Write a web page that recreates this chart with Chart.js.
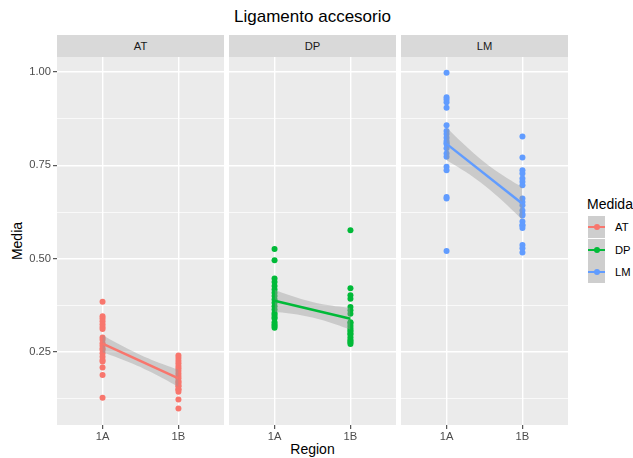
<!DOCTYPE html>
<html>
<head>
<meta charset="utf-8">
<script src="https://cdn.jsdelivr.net/npm/chart.js@4"></script>
<style>
body { margin: 0; background: #fff; }
#wrap { position: relative; width: 633px; height: 458px; font-family: 'Liberation Sans', Arial, sans-serif; overflow: hidden; }
.abs { position: absolute; }
canvas { position: absolute; }
.strip { position: absolute; top: 35px; height: 22px; width: 167px; line-height: 22px; background: #D9D9D9; color: #1A1A1A; font-size: 11.2px; text-align: center; }
.key { position: absolute; left: 588px; width: 17px; height: 22px; background: #CECECE; }
.key .ln { position: absolute; left: 0; top: 10px; width: 17px; height: 2px; }
.key .dt { position: absolute; left: 6px; top: 8px; width: 6px; height: 6px; border-radius: 3px; }
.lab { position: absolute; left: 615px; font-size: 11.2px; color: #000; line-height: 22px; }
</style>
</head>
<body>
<div id="wrap">
  <div class="abs" style="left:57px;width:511px;top:7px;text-align:center;font-size:17px;color:#000">Ligamento accesorio</div>
  <div class="abs" style="left:-13px;top:233px;width:60px;text-align:center;font-size:14px;transform:rotate(-90deg)">Media</div>
  <div class="abs" style="left:57px;width:511px;top:441px;text-align:center;font-size:14px">Region</div>
  <div id="strips"></div>
  <canvas id="p0" width="224" height="401" style="left:0px;top:57px"></canvas>
  <canvas id="p1" width="167" height="401" style="left:229px;top:57px"></canvas>
  <canvas id="p2" width="167" height="401" style="left:401px;top:57px"></canvas>
  <div class="abs" style="left:587px;top:196px;font-size:14px">Medida</div>
  <div id="legend"></div>
</div>
<script>
// data
var regions = ['1A', '1B']
var medidas = ['AT', 'DP', 'LM']
var colores = ['#F8766D', '#00BA38', '#619CFF']
var yTicks = [0.25, 0.5, 0.75, 1.0]

var AT_1A = [0.385, 0.346, 0.340, 0.333, 0.325, 0.317, 0.312, 0.289, 0.283, 0.274, 0.267, 0.260, 0.256, 0.247, 0.238, 0.229, 0.225, 0.209, 0.189, 0.128]
var AT_1B = [0.241, 0.234, 0.227, 0.220, 0.213, 0.207, 0.200, 0.193, 0.186, 0.180, 0.173, 0.170, 0.166, 0.160, 0.159, 0.151, 0.150, 0.144, 0.123, 0.099]
var DP_1A = [0.526, 0.496, 0.447, 0.438, 0.427, 0.418, 0.409, 0.400, 0.391, 0.382, 0.373, 0.364, 0.355, 0.350, 0.344, 0.340, 0.330, 0.324, 0.320, 0.315]
var DP_1B = [0.576, 0.421, 0.402, 0.393, 0.371, 0.362, 0.353, 0.330, 0.328, 0.321, 0.315, 0.310, 0.306, 0.300, 0.297, 0.290, 0.283, 0.280, 0.276, 0.272]
var LM_1A = [0.998, 0.932, 0.926, 0.919, 0.904, 0.857, 0.842, 0.834, 0.824, 0.815, 0.810, 0.807, 0.796, 0.782, 0.773, 0.746, 0.737, 0.665, 0.661, 0.521]
var LM_1B = [0.827, 0.771, 0.737, 0.728, 0.715, 0.706, 0.697, 0.600, 0.590, 0.661, 0.652, 0.643, 0.629, 0.620, 0.616, 0.589, 0.582, 0.537, 0.528, 0.517]

var panelData = [[AT_1A, AT_1B], [DP_1A, DP_1B], [LM_1A, LM_1B]]

// strips + legend
var strips = document.getElementById('strips')
var lefts = [57, 229, 401]
for (let i = 0; i < medidas.length; i++) {
    strips.innerHTML += '<div class="strip" style="left:' + lefts[i] + 'px">' + medidas[i] + '</div>'
}
var legend = document.getElementById('legend')
for (let i = 0; i < medidas.length; i++) {
    let top = 216 + i * 22.5
    legend.innerHTML += '<div class="key" style="top:' + top + 'px"><div class="ln" style="background:' + colores[i] + '"></div><div class="dt" style="background:' + colores[i] + '"></div></div>'
        + '<div class="lab" style="top:' + top + 'px">' + medidas[i] + '</div>'
}

function mean(arr) {
    let s = 0
    arr.forEach(v => s += v)
    return s / arr.length
}

// lm fit y ~ x with 95% band, like geom_smooth(method = 'lm')
function lmBand(a, b) {
    let n1 = a.length, n2 = b.length, n = n1 + n2
    let m1 = mean(a), m2 = mean(b)
    let ss = 0
    a.forEach(v => ss += (v - m1) ** 2)
    b.forEach(v => ss += (v - m2) ** 2)
    let sigma = Math.sqrt(ss / (n - 2))
    let xbar = (n1 * 1 + n2 * 2) / n
    let sxx = n1 * (1 - xbar) ** 2 + n2 * (2 - xbar) ** 2
    let df = n - 2, z = 1.959964
    let t = z + (z ** 3 + z) / (4 * df) + (5 * z ** 5 + 16 * z ** 3 + 3 * z) / (96 * df * df)
    let up = [], lo = []
    for (let k = 0; k <= 20; k++) {
        let x = 1 + k / 20
        let fit = m1 + (m2 - m1) * (x - 1)
        let se = sigma * Math.sqrt(1 / n + (x - xbar) ** 2 / sxx)
        up.push({x: x, y: fit + t * se})
        lo.push({x: x, y: fit - t * se})
    }
    return {line: [{x: 1, y: m1}, {x: 2, y: m2}], up: up, lo: lo}
}

var allTicks = []
yTicks.forEach(v => { allTicks.push(v - 0.125); allTicks.push(v) })
function isMajor(v) { return yTicks.some(t => Math.abs(t - v) < 1e-6) }

var panelBg = {
    id: 'panelBg',
    beforeDraw(chart) {
        let a = chart.chartArea, c = chart.ctx
        c.save()
        c.fillStyle = '#EBEBEB'
        c.fillRect(a.left, a.top, a.right - a.left, a.bottom - a.top)
        c.restore()
    }
}

function noPad(scale) {
    scale.paddingTop = 0; scale.paddingBottom = 0
    scale.paddingLeft = 0; scale.paddingRight = 0
}

function makePanel(i) {
    let a = panelData[i][0], b = panelData[i][1]
    let fit = lmBand(a, b)
    let pts = a.map(v => ({x: 1, y: v})).concat(b.map(v => ({x: 2, y: v})))
    let first = i == 0
    var ctx = document.getElementById('p' + i).getContext('2d')
    return new Chart(ctx, {
        type: 'scatter',
        data: {
            datasets: [
                {data: fit.line, showLine: true, borderColor: colores[i], borderWidth: 2.5, pointRadius: 0, order: 0},
                {data: fit.up, showLine: true, borderWidth: 0, pointRadius: 0, fill: '+1', backgroundColor: 'rgba(153,153,153,0.4)', order: 1},
                {data: fit.lo, showLine: true, borderWidth: 0, pointRadius: 0, fill: false, order: 2},
                {data: pts, pointRadius: 3, pointBackgroundColor: colores[i], pointBorderWidth: 0, order: 3}
            ]
        },
        options: {
            responsive: false,
            animation: false,
            devicePixelRatio: 1,
            layout: {padding: 0, autoPadding: false},
            plugins: {legend: {display: false}, tooltip: {enabled: false}},
            scales: {
                x: {
                    type: 'linear', min: 0.4, max: 2.6,
                    afterBuildTicks: s => { s.ticks = [{value: 1}, {value: 2}] },
                    afterFit: s => { s.height = 33; noPad(s) },
                    border: {display: false},
                    grid: {color: '#FFFFFF', lineWidth: 1.4, tickColor: '#333333', tickLength: 4, tickWidth: 1},
                    ticks: {padding: 1, color: '#4D4D4D', font: {family: 'Liberation Sans', size: 11.2}, callback: v => regions[v - 1]}
                },
                y: {
                    min: 0.055, max: 1.04,
                    afterBuildTicks: s => { s.ticks = allTicks.map(v => ({value: v})) },
                    afterFit: s => { s.width = first ? 57 : 0; noPad(s) },
                    border: {display: false},
                    grid: {
                        color: '#FFFFFF',
                        lineWidth: c => isMajor(c.tick.value) ? 1.4 : 0.7,
                        drawTicks: first,
                        tickLength: 4,
                        tickWidth: 1,
                        tickColor: c => isMajor(c.tick.value) ? '#333333' : 'rgba(0,0,0,0)'
                    },
                    ticks: {
                        display: first, padding: 2, color: '#4D4D4D',
                        font: {family: 'Liberation Sans', size: 11.2},
                        callback: v => isMajor(v) ? v.toFixed(2) : ''
                    }
                }
            }
        },
        plugins: [panelBg]
    })
}

for (let i = 0; i < 3; i++) makePanel(i)
</script>
</body>
</html>
